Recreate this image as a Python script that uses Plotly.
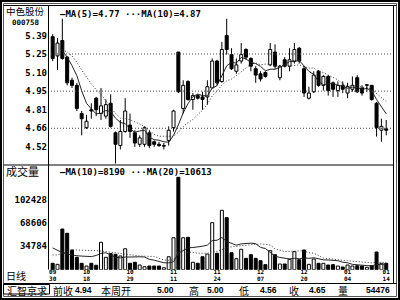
import plotly.graph_objects as go

# ---------------- data ----------------
idx = list(range(70))
opens = [5.38,5.23,5.35,5.22,5.04,5.00,4.78,4.67,4.81,4.90,
         4.78,4.76,4.86,4.63,4.53,4.64,4.69,4.63,4.54,4.54,
         4.63,4.56,4.54,4.525,4.57,4.67,5.26,4.82,5.03,4.89,
         4.92,4.91,4.91,4.98,5.19,5.03,5.39,5.24,5.11,5.19,
         5.28,5.21,5.13,5.09,5.10,5.16,5.26,5.06,5.20,5.15,
         5.19,5.29,5.13,4.90,4.95,5.11,5.00,5.07,5.02,4.96,
         5.00,4.94,4.97,5.06,4.98,5.00,5.00,4.86,4.65,4.66]
highs = [5.40,5.37,5.52,5.23,5.06,5.02,4.80,4.77,4.86,4.91,
         4.98,4.89,4.93,4.64,4.73,4.90,4.78,4.65,4.61,4.68,
         4.65,4.57,4.56,4.55,4.68,4.81,5.26,5.04,5.04,4.94,
         4.93,4.95,5.04,5.21,5.20,5.34,5.52,5.29,5.21,5.33,
         5.29,5.22,5.15,5.11,5.11,5.33,5.32,5.16,5.22,5.29,
         5.33,5.30,5.15,4.99,5.11,5.12,5.08,5.08,5.03,5.03,
         5.03,5.02,5.07,5.08,5.00,5.00,5.00,4.87,4.74,4.73]
lows = [5.19,5.12,5.20,5.00,4.98,4.80,4.61,4.66,4.74,4.76,
        4.73,4.74,4.67,4.39,4.50,4.63,4.59,4.52,4.52,4.52,
        4.51,4.52,4.52,4.50,4.53,4.64,4.94,4.78,4.88,4.81,
        4.89,4.81,4.85,4.98,5.00,5.02,5.24,5.12,5.09,5.17,
        5.20,5.11,5.02,5.03,5.06,5.15,5.13,5.04,5.14,5.11,
        5.17,5.17,4.91,4.89,4.94,4.99,4.96,4.92,4.91,4.91,
        4.94,4.90,4.95,4.94,4.92,4.95,4.88,4.60,4.56,4.61]
closes = [5.21,5.33,5.21,5.02,5.00,4.82,4.74,4.72,4.80,4.81,
          4.84,4.85,4.68,4.54,4.64,4.80,4.64,4.55,4.59,4.67,
          4.53,4.54,4.53,4.53,4.65,4.80,4.95,5.00,4.89,4.92,
          4.90,4.89,4.99,5.19,5.02,5.28,5.28,5.13,5.16,5.24,
          5.22,5.15,5.08,5.05,5.07,5.28,5.15,5.15,5.15,5.20,
          5.28,5.19,4.94,4.94,5.08,5.00,5.07,4.96,4.97,5.00,
          4.97,4.99,5.00,4.95,4.94,5.00,4.89,4.67,4.68,4.65]
volumes = [9400,7900,59800,53500,29000,18200,9400,5400,9400,6500,
           40300,18200,23600,22600,20200,30800,9400,10900,6900,4400,
           5400,5400,5400,2900,19100,47000,135800,47000,47600,10900,
           9400,19100,23000,69100,24100,87300,76500,25000,16200,30000,
           16700,22100,16700,13200,7400,27900,22100,8400,8400,15300,
           26500,14700,29000,7900,15700,9400,9400,6900,7400,5400,
           4000,6900,5400,5900,5400,3500,5900,26000,9400,9400]
ma5 = [None,None,5.27,5.22,5.154,5.076,4.958,4.86,4.816,4.778,
       4.782,4.804,4.796,4.744,4.71,4.702,4.66,4.634,4.644,4.65,
       4.596,4.576,4.572,4.56,4.556,4.61,4.692,4.786,4.858,4.912,
       4.932,4.92,4.918,4.978,4.998,5.074,5.152,5.18,5.174,5.218,
       5.206,5.18,5.17,5.148,5.114,5.126,5.126,5.14,5.16,5.186,
       5.186,5.194,5.152,5.11,5.086,5.03,5.006,5.01,5.016,5.00,
       4.994,4.978,4.986,4.982,4.97,4.976,4.956,4.89,4.836,4.778]
ma10 = [None,None,5.28,5.26,5.23,5.18,5.12,5.06,5.01,4.966,
        4.929,4.881,4.828,4.78,4.744,4.742,4.732,4.715,4.694,4.68,
        4.649,4.618,4.603,4.602,4.603,4.603,4.634,4.679,4.709,4.734,
        4.771,4.806,4.852,4.918,4.955,5.003,5.036,5.049,5.076,5.108,
        5.14,5.166,5.175,5.161,5.166,5.166,5.153,5.155,5.154,5.15,
        5.156,5.16,5.146,5.135,5.136,5.108,5.10,5.081,5.063,5.043,
        5.012,4.992,4.998,4.999,4.985,4.985,4.967,4.938,4.909,4.874]
vma10 = [32000,28000,25000,23000,21500,20500,20000,19600,19300,20850,
         23940,24970,21350,18260,17380,18640,18640,19190,18940,18730,
         15240,13960,12140,10170,10060,11680,24320,27930,32000,32650,
         33050,34420,36180,42800,43300,47330,41400,39200,36060,37970,
         38700,39000,38370,32780,31110,25170,19730,18070,17290,15820,
         16800,16060,17290,16760,17590,15740,14470,14320,14220,13230,
         10980,10200,7840,7640,6610,6020,5670,7580,7780,8180]
vma20 = [21600,21800,24000,27000,29000,29000,29000,29000,28500,28000,
         27500,26600,25500,24000,23000,22000,21200,20600,20200,19790,
         19590,19465,16745,14215,13720,15160,21480,23560,25470,25690,
         24145,24190,24160,26485,26680,29505,32860,33565,34030,35310,
         35875,36710,37275,37790,37205,36250,30565,28635,26675,26895,
         27750,27530,27830,24770,24350,20455,17100,16195,15755,14525,
         13890,13130,12565,12200,12100,10880,10070,10950,11000,10705]

price_ticks = [4.52, 4.665, 4.81, 4.955, 5.10, 5.245, 5.39]
price_tick_text = ["4.52", "4.66", "4.81", "4.95", "5.10", "5.25", "5.39"]
grid_levels = [4.665, 4.955, 5.245]
vol_ticks = [34784, 68606, 102428]
vol_tick_text = ["34784", "68606", "102428"]
date_pos = [0, 7, 16, 25, 34, 43, 52, 61, 69]
month_text = ["09", "10", "10", "11", "11", "12", "12", "01", "01"]
day_text = ["30", "18", "29", "11", "24", "07", "20", "04", "14"]

# ---------------- helpers ----------------
W, H = 400, 300
def px(x): return x / W
def py(y): return 1 - y / H

up = [c >= o for o, c in zip(opens, closes)]
fill = ["white" if u else "black" for u in up]
body_base = [min(o, c) for o, c in zip(opens, closes)]
body_h = [max(abs(c - o), 0.006) for o, c in zip(opens, closes)]

wx, wy = [], []
for i, o, h, l, c in zip(idx, opens, highs, lows, closes):
    top, bot = max(o, c), min(o, c)
    wx += [i, i, None, i, i, None]
    wy += [top, h, None, bot, l, None]

MONO = "DejaVu Sans Mono"
SANS = "Liberation Sans"
CJK = "Noto Sans CJK SC"

fig = go.Figure()
fig.add_trace(go.Scatter(x=idx, y=ma10, mode="lines", line=dict(color="#333", width=1, dash="1px,2px"),
                         xaxis="x", yaxis="y", hoverinfo="skip"))
fig.add_trace(go.Scatter(x=idx, y=ma5, mode="lines", line=dict(color="#222", width=1),
                         xaxis="x", yaxis="y", hoverinfo="skip"))
fig.add_trace(go.Scatter(x=wx, y=wy, mode="lines", line=dict(color="black", width=1),
                         xaxis="x", yaxis="y", hoverinfo="skip"))
fig.add_trace(go.Bar(x=idx, y=body_h, base=body_base, width=0.62,
                     marker=dict(color=fill, line=dict(color="black", width=1)),
                     xaxis="x", yaxis="y"))
fig.add_trace(go.Bar(x=idx, y=volumes, width=0.62,
                     marker=dict(color=fill, line=dict(color="black", width=1)),
                     xaxis="x2", yaxis="y2"))
fig.add_trace(go.Scatter(x=idx, y=vma20, mode="lines", line=dict(color="#333", width=1, dash="1px,2px"),
                         xaxis="x2", yaxis="y2", hoverinfo="skip"))
fig.add_trace(go.Scatter(x=idx, y=vma10, mode="lines", line=dict(color="#222", width=1),
                         xaxis="x2", yaxis="y2", hoverinfo="skip"))
# invisible carrier for the day-label axis
fig.add_trace(go.Scatter(x=[0], y=[0], mode="markers", marker=dict(opacity=0),
                         xaxis="x3", yaxis="y2", hoverinfo="skip"))

xr = [-0.966, 70.4]
dom_x = [px(48), px(393)]
tickfont = dict(family=MONO, size=9, color="black", weight="bold")
datefont = dict(family=MONO, size=6, color="black", weight="bold")
fig.update_layout(
    width=W, height=H, margin=dict(l=0, r=0, t=0, b=0),
    paper_bgcolor="white", plot_bgcolor="white", showlegend=False, barmode="overlay",
    xaxis=dict(domain=dom_x, range=xr, anchor="y", showticklabels=False, showgrid=False,
               zeroline=False, showline=False, ticks=""),
    yaxis=dict(domain=[py(165), py(5.3)], range=[4.3785, 5.625], anchor="x",
               tickvals=price_ticks, ticktext=price_tick_text, tickfont=tickfont,
               showgrid=False, zeroline=False, showline=False, ticks=""),
    xaxis2=dict(domain=dom_x, range=xr, anchor="y2", tickvals=date_pos, ticktext=month_text,
                tickfont=datefont, ticklabelstandoff=-3,
                showgrid=False, zeroline=False, showline=False, ticks="", tickangle=0),
    xaxis3=dict(domain=dom_x, range=xr, anchor="free", overlaying="x2", position=py(277),
                tickvals=date_pos, ticktext=day_text, tickfont=datefont, ticklabelstandoff=-3,
                showgrid=False, zeroline=False, showline=False, ticks="", tickangle=0),
    yaxis2=dict(domain=[py(269.7), py(165)], range=[0, 153900], anchor="x2",
                tickvals=vol_ticks, ticktext=vol_tick_text, tickfont=tickfont,
                showgrid=False, zeroline=False, showline=False, ticks=""),
)

shapes = []
for g in grid_levels:
    shapes.append(dict(type="line", xref="x domain", yref="y", x0=0, x1=1, y0=g, y1=g,
                       line=dict(color="#444", width=1, dash="1px,2px")))
def hline(y, x0, x1, w=1, c="black"):
    shapes.append(dict(type="line", xref="paper", yref="paper", x0=px(x0), x1=px(x1),
                       y0=py(y), y1=py(y), line=dict(color=c, width=w)))
def vline(x, y0, y1, w=1, c="black"):
    shapes.append(dict(type="line", xref="paper", yref="paper", x0=px(x), x1=px(x),
                       y0=py(y0), y1=py(y1), line=dict(color=c, width=w)))
# frame
shapes.append(dict(type="rect", xref="paper", yref="paper", x0=px(1), x1=px(399), y0=py(299), y1=py(1),
                   line=dict(color="black", width=2)))
shapes.append(dict(type="rect", xref="paper", yref="paper", x0=px(3.5), x1=px(396.5), y0=py(296.5), y1=py(3.5),
                   line=dict(color="#555", width=1)))
hline(5.5, 3.5, 396.5)
vline(393.5, 5.5, 283.5)
vline(48.5, 5.5, 269.5)
hline(165, 3.5, 393.5)
hline(283.5, 3.5, 396.5)
shapes.append(dict(type="rect", xref="paper", yref="paper", x0=px(3.5), x1=px(49.5), y0=py(294), y1=py(284.5),
                   line=dict(color="black", width=1)))
fig.update_layout(shapes=shapes)

ann = []
def text(t, x, y, xa="left", size=9, fam=MONO, bold=True):
    f = dict(family=fam, size=size, color="black")
    if bold:
        f["weight"] = "bold"
    ann.append(dict(text=t, x=px(x), y=py(y), xref="paper", yref="paper", xanchor=xa, yanchor="middle",
                    showarrow=False, font=f))
text("中色股份", 25, 10.5, "center", 9.5, CJK, False)
text("000758", 26, 22, "center", 7.5)
text("成交量", 4, 170.5, "left", 11, CJK, False)
text("日线", 4, 275.5, "left", 10, CJK, False)
text("—MA(5)=4.77 ···MA(10)=4.87", 58, 13.5, "left", 9)
text("—MA(10)=8190 ···MA(20)=10613", 58, 171.5, "left", 9)
text("汇智京求", 27, 290, "center", 10, CJK, False)
text("前收", 51, 290, "left", 10, CJK, False)
text("4.94", 94, 290, "right", 8.5, SANS)
text("本周开", 99, 290, "left", 10, CJK, False)
text("5.00", 176, 290, "right", 8.5, SANS)
text("高", 187, 290, "left", 10, CJK, False)
text("5.00", 226, 290, "right", 8.5, SANS)
text("低", 237, 290, "left", 10, CJK, False)
text("4.56", 279, 290, "right", 8.5, SANS)
text("收", 287, 290, "left", 10, CJK, False)
text("4.65", 328, 290, "right", 8.5, SANS)
text("量", 336, 290, "left", 10, CJK, False)
text("54476", 392, 290, "right", 8.5, SANS)
fig.update_layout(annotations=ann)

fig.write_html("out.html")
